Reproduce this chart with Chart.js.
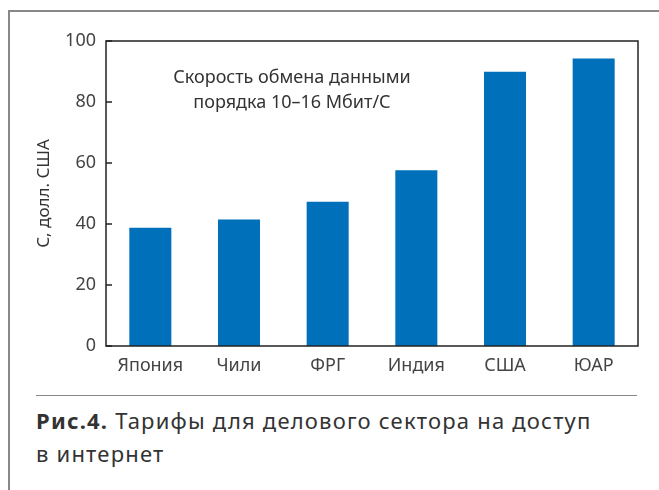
<!DOCTYPE html>
<html>
<head>
<meta charset="utf-8">
<script src="https://cdn.jsdelivr.net/npm/chart.js@4"></script>
<style>
  body { margin: 0; background: #fff; font-family: "Noto Sans", sans-serif; }
  #wrap { position: relative; width: 659px; height: 490px; overflow: hidden; }
  #frame { position: absolute; left: 8px; top: 10px; width: 700px; height: 600px;
           border-left: 2px solid #888; border-top: 2px solid #888; }
  #chartBox { position: absolute; left: 0; top: 0; width: 659px; height: 380px; }
  #rule { position: absolute; left: 36px; top: 395px; width: 601px; height: 0;
          border-top: 1.5px solid #888; }
  #caption { position: absolute; left: 36px; top: 404px; width: 620px;
             font-size: 22px; letter-spacing: 1.2px; line-height: 33px; color: #333; }
</style>
</head>
<body>
<div id="wrap">
  <div id="frame"></div>
  <div id="chartBox"><canvas id="tariffs"></canvas></div>
  <div id="rule"></div>
  <div id="caption"><b>Рис.4.</b> Тарифы для делового сектора на доступ<br>в интернет</div>
</div>
<script>
const countries = ['Япония', 'Чили', 'ФРГ', 'Индия', 'США', 'ЮАР'];
const prices = [38.8, 41.5, 47.3, 57.6, 89.9, 94.3];
const yTicks = [0, 20, 40, 60, 80, 100];
const noteLines = ['Скорость обмена данными', 'порядка 10–16 Мбит/С'];

//frame around plot, inner ticks and the note
const plotExtras = {
  id: 'plotExtras',
  afterDraw(chart) {
    const ctx = chart.ctx;
    const a = chart.chartArea;
    const y = chart.scales.y;
    ctx.save();
    ctx.strokeStyle = '#222';
    ctx.lineWidth = 1.5;
    ctx.strokeRect(a.left, a.top, a.right - a.left, a.bottom - a.top);
    for (let i = 0; i < yTicks.length; i++) {
      const py = Math.round(y.getPixelForValue(yTicks[i]));
      ctx.beginPath();
      ctx.moveTo(a.left, py);
      ctx.lineTo(a.left + 6, py);
      ctx.stroke();
    }
    ctx.fillStyle = '#333';
    ctx.font = '18px "Noto Sans"';
    ctx.textAlign = 'center';
    ctx.textBaseline = 'middle';
    for (let i = 0; i < noteLines.length; i++) {
      ctx.fillText(noteLines[i], 292, y.getPixelForValue(88) + i * 25);
    }
    ctx.restore();
  }
};

new Chart(document.getElementById('tariffs'), {
  type: 'bar',
  data: {
    labels: countries,
    datasets: [{
      data: prices,
      backgroundColor: '#0070ba',
      borderWidth: 0,
      barPercentage: 0.474,
      categoryPercentage: 1
    }]
  },
  options: {
    responsive: true,
    maintainAspectRatio: false,
    animation: false,
    layout: { padding: { top: 41, right: 21, left: 0, bottom: 0 } },
    plugins: { legend: { display: false }, tooltip: { enabled: false } },
    scales: {
      x: {
        grid: { display: false, drawTicks: false },
        border: { display: false },
        ticks: { color: '#444', padding: 9, font: { family: 'Noto Sans', size: 18 } },
        afterFit(scale) { scale.height = 34; }
      },
      y: {
        min: 0,
        max: 100,
        afterBuildTicks(scale) { scale.ticks = yTicks.map(v => ({ value: v })); },
        grid: { display: false, drawTicks: false },
        border: { display: false },
        ticks: { color: '#444', padding: 10, font: { family: 'Noto Sans', size: 18 } },
        title: {
          display: true,
          text: 'С, долл. США',
          color: '#333',
          padding: { top: 34, bottom: 0 },
          font: { family: 'Noto Sans', size: 17 }
        },
        afterFit(scale) { scale.width = 106; }
      }
    }
  },
  plugins: [plotExtras]
});
</script>
</body>
</html>
